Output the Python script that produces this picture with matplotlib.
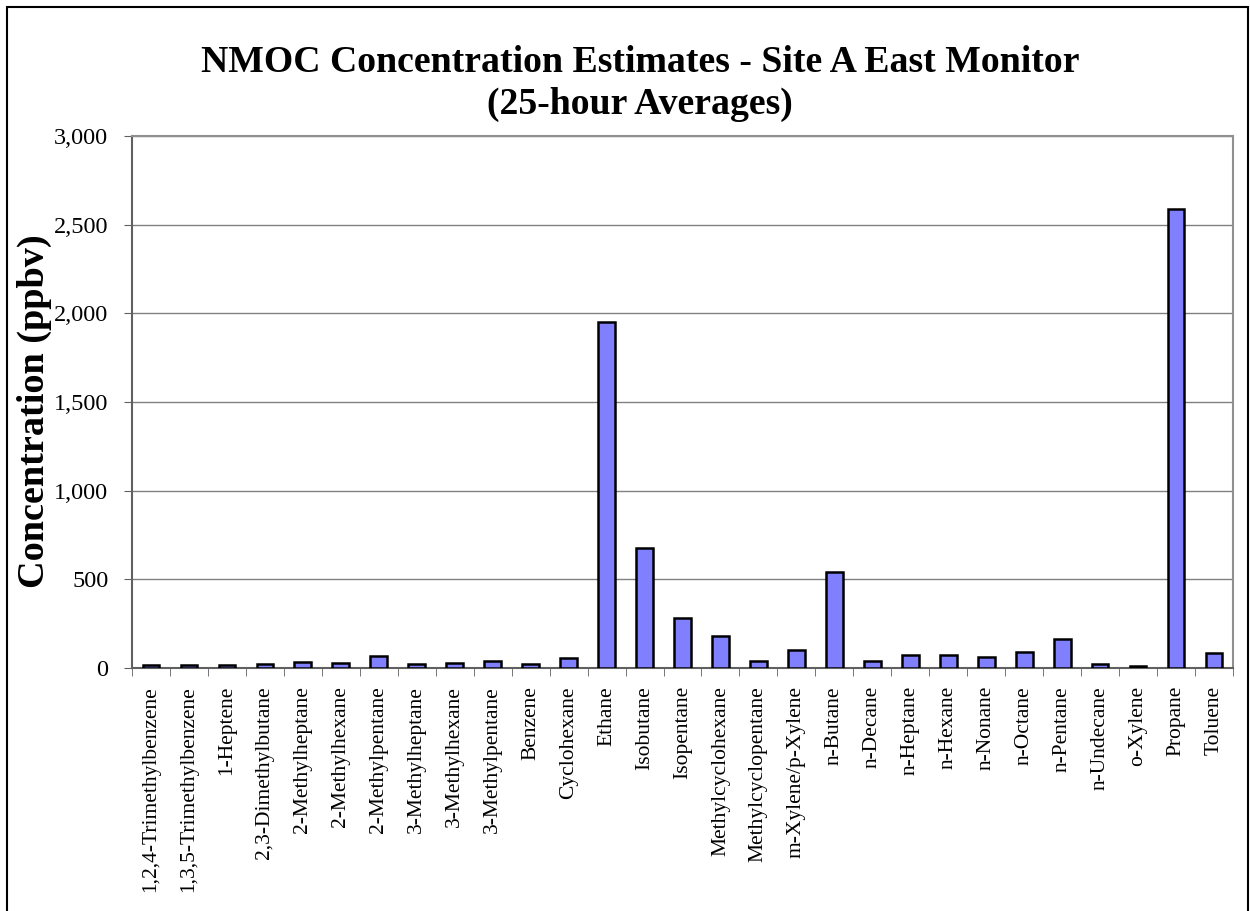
import matplotlib
matplotlib.use("Agg")
import matplotlib.pyplot as plt
from matplotlib.patches import Rectangle
from matplotlib.ticker import FuncFormatter, FixedLocator
import numpy as np

compounds = ["1,2,4-Trimethylbenzene", "1,3,5-Trimethylbenzene", "1-Heptene",
             "2,3-Dimethylbutane", "2-Methylheptane", "2-Methylhexane",
             "2-Methylpentane", "3-Methylheptane", "3-Methylhexane",
             "3-Methylpentane", "Benzene", "Cyclohexane", "Ethane", "Isobutane",
             "Isopentane", "Methylcyclohexane", "Methylcyclopentane",
             "m-Xylene/p-Xylene", "n-Butane", "n-Decane", "n-Heptane", "n-Hexane",
             "n-Nonane", "n-Octane", "n-Pentane", "n-Undecane", "o-Xylene",
             "Propane", "Toluene"]
concentration = [18, 16, 16, 21, 33, 31, 65, 21, 28, 39, 23, 59, 1950, 675,
                 282, 181, 38, 100, 543, 40, 76, 72, 60, 91, 166, 21, 14,
                 2590, 87]

plt.rcParams["font.family"] = ["Liberation Serif", "DejaVu Serif"]

fig = plt.figure(figsize=(12.5, 9.11), dpi=100)
ax = fig.add_axes([132 / 1250, 1 - 668 / 911, (1233 - 132) / 1250, (668 - 136) / 911])

x = np.arange(len(compounds))
ax.bar(x, concentration, width=0.44, color="#8080FF", edgecolor="black", linewidth=1.8, zorder=3)

ax.set_xlim(-0.5, len(compounds) - 0.5)
ax.set_ylim(0, 3000)
ax.set_yticks(np.arange(0, 3001, 500))
ax.yaxis.set_major_formatter(FuncFormatter(lambda v, p: f"{int(v):,}"))
ax.grid(axis="y", color="#808080", linewidth=1, zorder=0)

ax.set_xticks(x)
ax.set_xticklabels(compounds, rotation=90, fontsize=15.5)
ax.xaxis.set_minor_locator(FixedLocator(np.arange(-0.5, len(compounds), 1)))
ax.tick_params(axis="x", which="major", length=0, pad=13)
ax.tick_params(axis="x", which="minor", length=6, color="#606060", direction="out")
ax.tick_params(axis="y", labelsize=17.5, length=6, color="#606060", pad=11)

for side in ["top", "right"]:
    ax.spines[side].set_color("#909090")
    ax.spines[side].set_linewidth(1.5)
for side in ["left", "bottom"]:
    ax.spines[side].set_color("#606060")
    ax.spines[side].set_linewidth(1.5)

ax.set_ylabel("Concentration (ppbv)", fontsize=27.5, fontweight="bold")
ax.yaxis.set_label_coords(-0.073, 0.483)

fig.text(0.512, 1 - 63 / 911, "NMOC Concentration Estimates - Site A East Monitor",
         ha="center", va="center", fontsize=27.2, fontweight="bold")
fig.text(0.512, 1 - 104 / 911, "(25-hour Averages)",
         ha="center", va="center", fontsize=27.2, fontweight="bold")

# outer chart border
fig.patches.append(Rectangle((7 / 1250, -0.05), (1248 - 7) / 1250, 1.05 - 7 / 911,
                             transform=fig.transFigure, fill=False,
                             edgecolor="black", linewidth=1.5))

fig.savefig("out.png", dpi=100)
